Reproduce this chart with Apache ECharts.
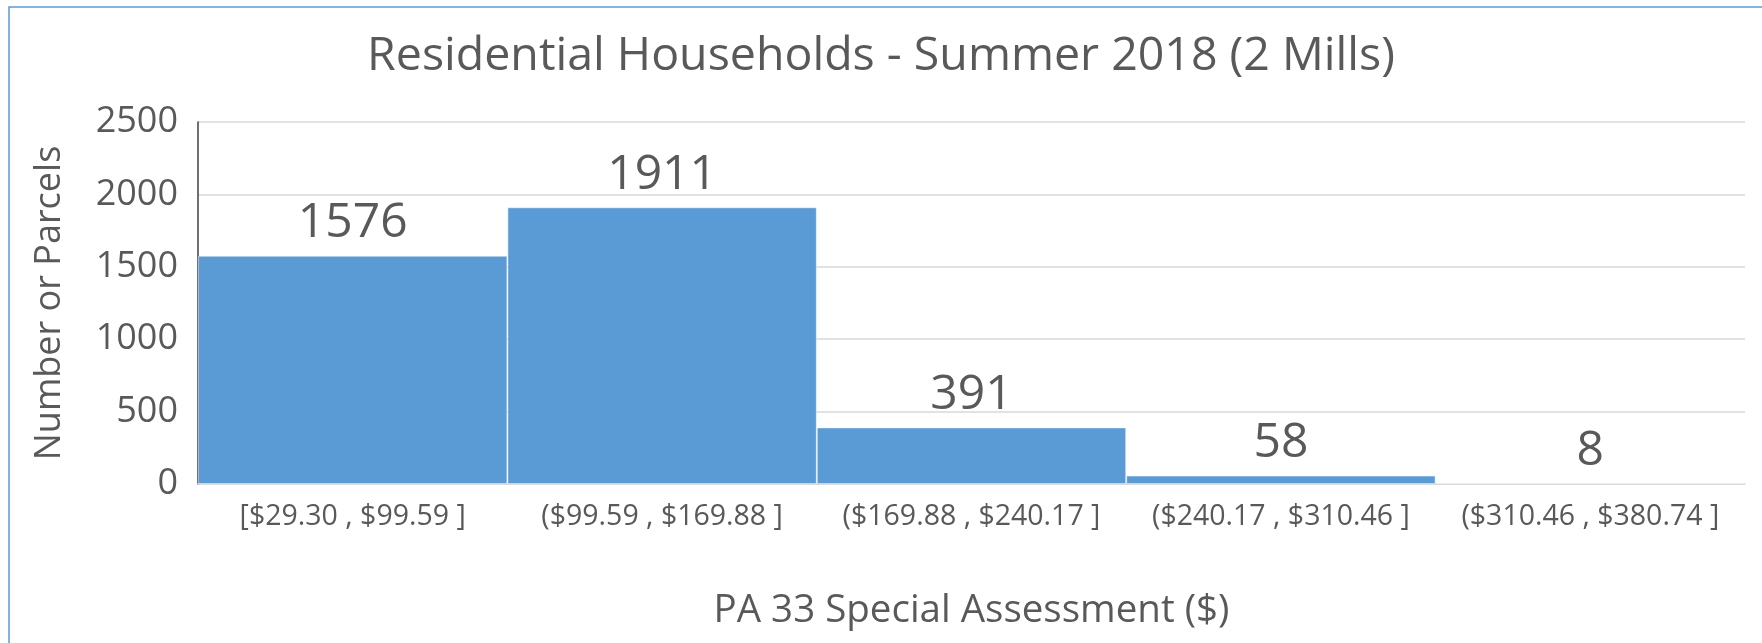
<!DOCTYPE html>
<html>
<head>
<meta charset="utf-8">
<script src="https://cdn.jsdelivr.net/npm/echarts@6/dist/echarts.min.js"></script>
<style>
  html, body { margin: 0; padding: 0; background: #fff; }
  #main { width: 1762px; height: 643px; }
</style>
</head>
<body>
<div id="main"></div>
<script>
// bins and counts
var binLabels = ['[$29.30 , $99.59 ]', '($99.59 , $169.88 ]', '($169.88 , $240.17 ]', '($240.17 , $310.46 ]', '($310.46 , $380.74 ]'];
var parcelCounts = [1576, 1911, 391, 58, 8];
var yTicks = [0, 500, 1000, 1500, 2000, 2500];

var txt = '#595959';
var font = 'Open Sans';

var myChart = echarts.init(document.getElementById('main'));

var option = {
    backgroundColor: '#fff',
    textStyle: { fontFamily: font },
    title: {
        text: 'Residential Households - Summer 2018 (2 Mills)',
        left: 'center',
        top: 28,
        textStyle: { color: txt, fontSize: 46.5, fontWeight: 'normal', fontFamily: font }
    },
    graphic: [{
        type: 'rect',
        shape: { x: 9, y: 7, width: 1800, height: 700 },
        style: { fill: 'none', stroke: '#5B9BD5', lineWidth: 1.5 },
        silent: true
    }],
    grid: {
        left: 198,
        right: 17,
        top: 122,
        bottom: 159
    },
    xAxis: {
        type: 'category',
        data: binLabels,
        axisLine: { show: true, lineStyle: { color: '#D9D9D9', width: 1.5 } },
        axisTick: { show: false },
        axisLabel: { color: txt, fontSize: 28.5, margin: 18, interval: 0, fontFamily: font },
        name: 'PA 33 Special Assessment ($)',
        nameLocation: 'middle',
        nameGap: 108,
        nameTextStyle: { color: txt, fontSize: 38.5, fontFamily: font }
    },
    yAxis: {
        type: 'value',
        min: yTicks[0],
        max: yTicks[yTicks.length - 1],
        interval: yTicks[1] - yTicks[0],
        axisLine: { show: true, lineStyle: { color: '#404040', width: 1.5 } },
        axisTick: { show: false },
        splitLine: { lineStyle: { color: '#D9D9D9', width: 1.5 } },
        axisLabel: {
            color: txt, fontSize: 36, margin: 20, fontFamily: font,
            formatter: function (v) { return String(v); }
        },
        name: 'Number or Parcels',
        nameLocation: 'middle',
        nameGap: 130,
        nameTextStyle: { color: txt, fontSize: 36, fontFamily: font }
    },
    series: [{
        type: 'bar',
        data: parcelCounts,
        barWidth: '100%',
        barCategoryGap: 0,
        itemStyle: { color: '#5B9BD5', borderColor: 'rgba(255,255,255,0.45)', borderWidth: 1 },
        label: {
            show: true,
            position: 'top',
            distance: 8,
            color: txt,
            fontSize: 48,
            fontFamily: font
        },
        silent: true
    }]
};

myChart.setOption(option);
</script>
</body>
</html>
